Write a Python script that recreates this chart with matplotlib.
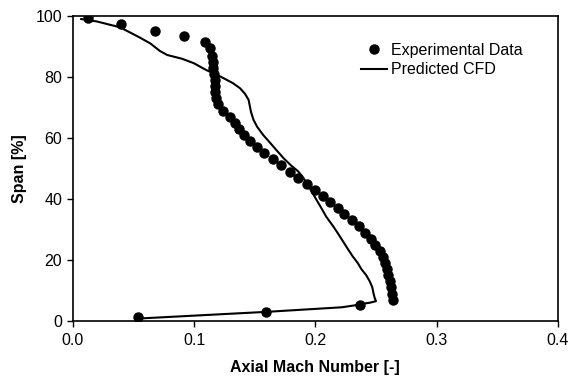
import matplotlib
matplotlib.use("Agg")
import matplotlib.pyplot as plt

plt.rcParams['font.family'] = ['Liberation Sans', 'DejaVu Sans']

# experimental data (axial Mach number vs span %)
exp_mach = [0.013, 0.040, 0.068, 0.092, 0.109, 0.113, 0.115, 0.1155, 0.116, 0.1165,
            0.117, 0.117, 0.1175, 0.118, 0.1195, 0.124, 0.130, 0.134, 0.137, 0.141,
            0.146, 0.152, 0.158, 0.165, 0.172, 0.179, 0.186, 0.193, 0.200, 0.206,
            0.212, 0.219, 0.224, 0.230, 0.236, 0.241, 0.246, 0.249, 0.253, 0.256,
            0.2575, 0.259, 0.260, 0.2615, 0.2625, 0.263, 0.264, 0.237, 0.159, 0.054]
exp_span = [99.2, 97.4, 95.2, 93.4, 91.4, 89.4, 87, 85, 83, 81,
            79, 77, 75, 73, 71, 69, 67, 65, 63, 61,
            59, 57, 55, 53, 51, 49, 47, 45, 43, 41,
            39, 37, 35, 33, 31, 29, 27, 25, 23, 21,
            19, 17, 15, 13, 11, 9, 7, 5.2, 3.05, 1.4]

# predicted CFD
cfd_mach = [0.054, 0.160, 0.222, 0.232, 0.240, 0.245, 0.250, 0.249, 0.248, 0.247,
            0.245, 0.242, 0.238, 0.235, 0.231, 0.227, 0.223, 0.219, 0.215, 0.209,
            0.205, 0.201, 0.197, 0.193, 0.190, 0.186, 0.180, 0.174, 0.168, 0.163,
            0.157, 0.152, 0.149, 0.147, 0.146, 0.145, 0.142, 0.138, 0.132, 0.122,
            0.110, 0.100, 0.090, 0.078, 0.072, 0.064, 0.055, 0.039, 0.020, 0.007]
cfd_span = [0.8, 3.0, 4.5, 5.1, 5.7, 6.0, 6.5, 7.5, 9.0, 11.0,
            12.9, 15.0, 17.0, 19.0, 21.1, 23.5, 26.0, 28.5, 30.9, 34.2,
            37.0, 39.7, 42.5, 45.1, 47.0, 49.0, 51.0, 53.3, 56.0, 58.3,
            61.0, 63.7, 66.0, 68.5, 70.5, 72.5, 74.5, 76.3, 78.0, 80.1,
            82.3, 84.5, 86.0, 87.2, 88.5, 91.0, 93.0, 96.3, 98.2, 99.0]

fig = plt.figure(figsize=(5.69, 3.81), dpi=100)
ax = fig.add_axes([0.1278, 0.1575, 0.8527, 0.8005])

ax.plot(exp_mach, exp_span, 'o', color='black', markersize=6.5, label='Experimental Data')
ax.plot(cfd_mach, cfd_span, '-', color='black', linewidth=1.5, label='Predicted CFD')

ax.set_xlim(0.0, 0.4)
ax.set_ylim(0, 100)
ax.set_xticks([0.0, 0.1, 0.2, 0.3, 0.4])
ax.set_xticklabels(['0.0', '0.1', '0.2', '0.3', '0.4'])
ax.set_yticks([0, 20, 40, 60, 80, 100])
ax.tick_params(direction='out', length=4, width=1, labelsize=11.5, colors='black')
ax.tick_params(axis='y', pad=3.5)
ax.tick_params(axis='x', pad=5)
for s in ax.spines.values():
    s.set_linewidth(1.2)

ax.set_xlabel('Axial Mach Number [-]', fontsize=11.5, fontweight='bold', labelpad=8)
ax.set_ylabel('Span [%]', fontsize=11.5, fontweight='bold', labelpad=6)

ax.legend(loc='upper left', bbox_to_anchor=(0.565, 0.96), frameon=False,
          fontsize=11.5, handlelength=1.6, handletextpad=0.25, labelspacing=0.3)

fig.savefig('out.png', dpi=100)
